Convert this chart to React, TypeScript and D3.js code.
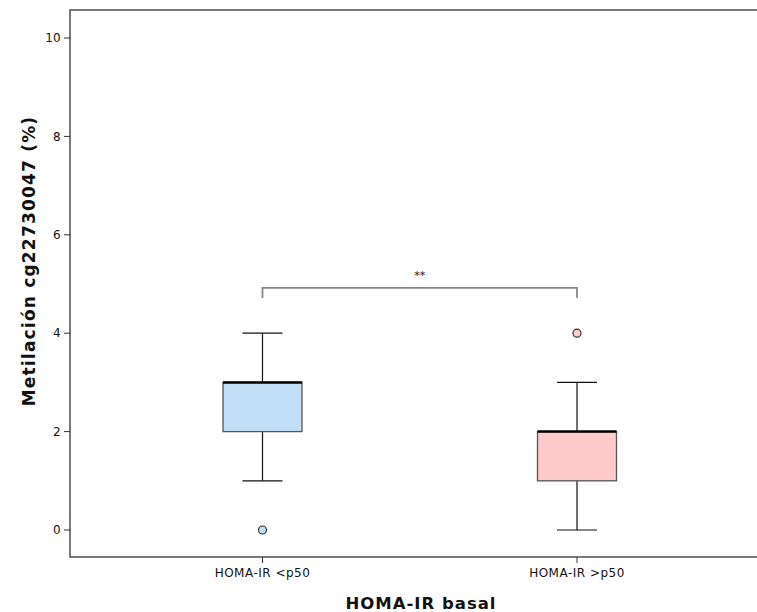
import React from "react";
import * as d3 from "d3";

const categories = ["HOMA-IR <p50", "HOMA-IR >p50"];
const whiskerLow = [1, 0];
const q1 = [2, 1];
const median = [3, 2];
const q3 = [3, 2];
const whiskerHigh = [4, 3];
const outliers = [[0], [4]];
const fills = ["#c2dff8", "#fecaca"];
const yTicks = [0, 2, 4, 6, 8, 10];
const bracketValue = 4.92;
const bracketLabel = "**";
const yTitle = "Metilación cg22730047 (%)";
const xTitle = "HOMA-IR basal";

export default function App() {
  const W = 757, H = 612;
  const left = 70, top = 10, right = 762, bottom = 557;
  const y = d3.scaleLinear().domain([0, 10]).range([530, 38]);
  const x = d3.scalePoint<string>().domain(categories).range([262.5, 577]);
  const boxW = 79, capW = 40;
  const font = "'DejaVu Sans', Verdana, sans-serif";
  const bx1 = x(categories[0])!, bx2 = x(categories[1])!;
  const by = y(bracketValue);
  return (
    <svg width={W} height={H} style={{ position: "absolute", left: 0, top: 0, background: "#fff" }}>
      <rect x={left} y={top} width={right - left} height={bottom - top} fill="none" stroke="#333" strokeWidth={1.3} />
      {yTicks.map((t) => (
        <g key={t}>
          <line x1={left - 6} x2={left} y1={y(t)} y2={y(t)} stroke="#333" strokeWidth={1} />
          <text x={left - 9} y={y(t)} dy="0.35em" textAnchor="end" fontSize={12} letterSpacing={0.3} fontFamily={font} fill="#111">{t}</text>
        </g>
      ))}
      {categories.map((c) => (
        <g key={c}>
          <line x1={x(c)!} x2={x(c)!} y1={bottom} y2={bottom + 6} stroke="#333" strokeWidth={1} />
          <text x={x(c)!} y={bottom + 16} dy="0.35em" textAnchor="middle" fontSize={12} letterSpacing={0.5} fontFamily={font} fill="#111">{c}</text>
        </g>
      ))}
      {categories.map((c, i) => {
        const cx = x(c)!;
        return (
          <g key={"b" + c}>
            <line x1={cx} x2={cx} y1={y(whiskerHigh[i])} y2={y(q3[i])} stroke="#111" strokeWidth={1.2} />
            <line x1={cx} x2={cx} y1={y(q1[i])} y2={y(whiskerLow[i])} stroke="#111" strokeWidth={1.2} />
            <line x1={cx - capW / 2} x2={cx + capW / 2} y1={y(whiskerHigh[i])} y2={y(whiskerHigh[i])} stroke="#111" strokeWidth={1.2} />
            <line x1={cx - capW / 2} x2={cx + capW / 2} y1={y(whiskerLow[i])} y2={y(whiskerLow[i])} stroke="#111" strokeWidth={1.2} />
            <rect x={cx - boxW / 2} y={y(q3[i])} width={boxW} height={y(q1[i]) - y(q3[i])} fill={fills[i]} stroke="#555" strokeWidth={1.3} />
            <line x1={cx - boxW / 2} x2={cx + boxW / 2} y1={y(median[i])} y2={y(median[i])} stroke="#000" strokeWidth={2.5} />
            {outliers[i].map((o, j) => (
              <circle key={j} cx={cx} cy={y(o)} r={4} fill={fills[i]} stroke="#333" strokeWidth={1.2} />
            ))}
          </g>
        );
      })}
      <path d={`M${bx1},${by + 10}V${by}H${bx2}V${by + 10}`} fill="none" stroke="#888" strokeWidth={1.8} />
      <text x={(bx1 + bx2) / 2} y={by - 9} textAnchor="middle" fontSize={11} fontFamily={font} fill="#111">{bracketLabel}</text>
      <text transform={`translate(29,261) rotate(-90)`} textAnchor="middle" dy="0.35em" fontSize={17} letterSpacing={1.2} fontWeight="bold" fontFamily={font} fill="#111">{yTitle}</text>
      <text x={421} y={603} dy="0.35em" textAnchor="middle" fontSize={16.5} letterSpacing={1} fontWeight="bold" fontFamily={font} fill="#111">{xTitle}</text>
    </svg>
  );
}
